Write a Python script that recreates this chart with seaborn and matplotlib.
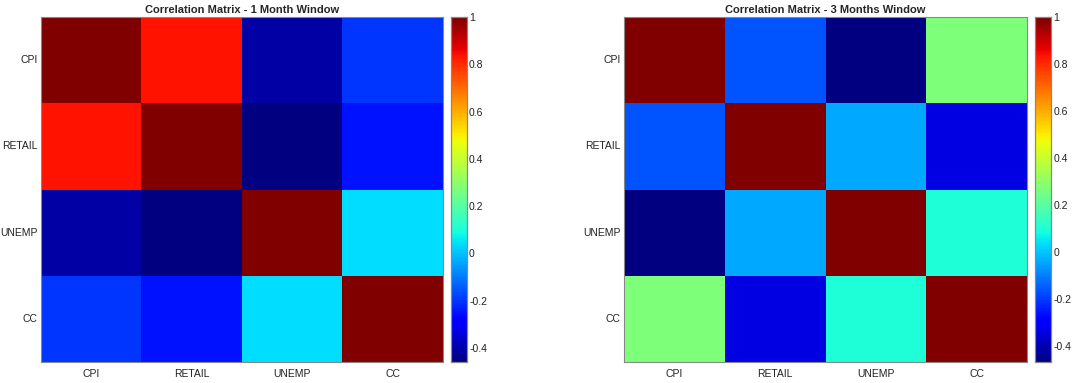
'''
Correlation matrices - 1 month vs 3 months window
'''

import numpy as np
import pandas as pd
import matplotlib
matplotlib.use('Agg')
import matplotlib.pyplot as plt
import seaborn as sns

labels = ['CPI', 'RETAIL', 'UNEMP', 'CC']

# 1 month window
corr_1m = [[1.00, 0.84, -0.41, -0.20],
           [0.84, 1.00, -0.46, -0.25],
           [-0.41, -0.46, 1.00, 0.04],
           [-0.20, -0.25, 0.04, 1.00]]

# 3 months window
corr_3m = [[1.00, -0.16, -0.47, 0.27],
           [-0.16, 1.00, -0.04, -0.34],
           [-0.47, -0.04, 1.00, 0.10],
           [0.27, -0.34, 0.10, 1.00]]

titles = ['Correlation Matrix - 1 Month Window',
          'Correlation Matrix - 3 Months Window']
cbar_ticks = [-0.4, -0.2, 0, 0.2, 0.4, 0.6, 0.8, 1]

sns.set_style('white')
plt.rcParams['font.family'] = ['Liberation Sans', 'DejaVu Sans']

fig = plt.figure(figsize=(10.75, 3.83), dpi=100)
ax1 = fig.add_axes([0.038, 0.055, 0.374, 0.90])
cax1 = fig.add_axes([0.4195, 0.055, 0.0149, 0.90])
ax2 = fig.add_axes([0.5805, 0.055, 0.375, 0.90])
cax2 = fig.add_axes([0.963, 0.055, 0.0149, 0.90])

for ax, cax, mat, title in zip([ax1, ax2], [cax1, cax2],
                               [corr_1m, corr_3m], titles):
    df = pd.DataFrame(mat, index=labels, columns=labels)
    sns.heatmap(df, ax=ax, cbar_ax=cax, cmap='jet',
                vmin=np.min(mat), vmax=1, square=False)
    ax.set_title(title, fontsize=8, fontweight='bold', pad=3)
    ax.tick_params(direction='in', length=3, color='#666666',
                   top=True, right=True, labeltop=False, labelright=False,
                   labelsize=7.5, labelcolor='#222222', pad=2.5)
    ax.tick_params(axis='x', pad=5)
    ax.set_yticklabels(labels, rotation=0)
    ax.set_xticklabels(labels, rotation=0)
    for sp in ax.spines.values():
        sp.set_visible(True)
        sp.set_color('#888888')
        sp.set_linewidth(0.8)

    cax.set_yticks(cbar_ticks)
    cax.set_yticklabels(['-0.4', '-0.2', '0', '0.2', '0.4', '0.6', '0.8', '1'])
    cax.tick_params(direction='in', length=3, color='#666666',
                    labelsize=7.5, labelcolor='#222222', pad=1.5)
    for sp in cax.spines.values():
        sp.set_visible(True)
        sp.set_color('#888888')
        sp.set_linewidth(0.8)

fig.savefig('out.png', dpi=100)
